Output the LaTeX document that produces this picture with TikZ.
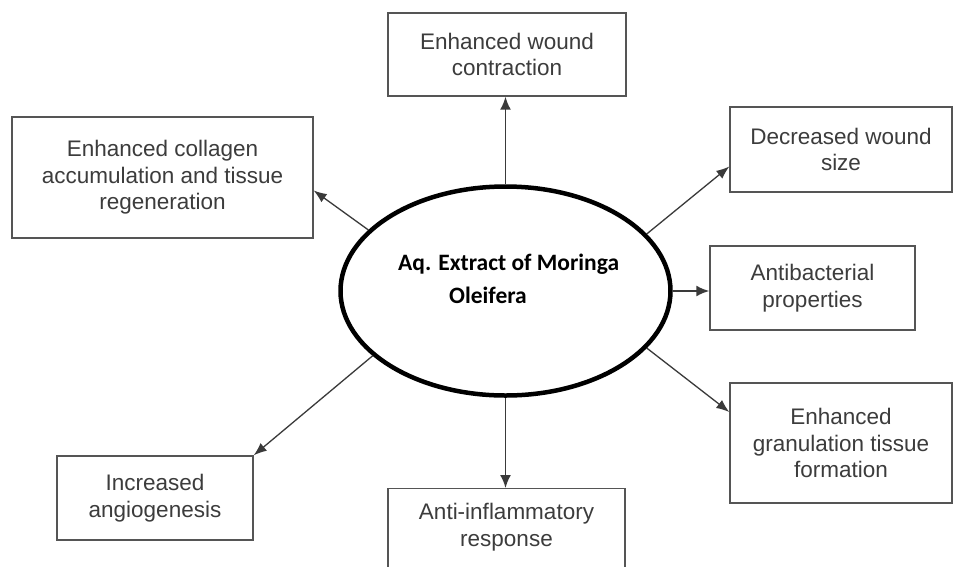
\documentclass[tikz,border=0pt]{standalone}
\usepackage{fontspec}
\usetikzlibrary{shapes.geometric,arrows.meta,calc}
\newfontfamily\boxfont{Liberation Sans}
\newfontfamily\titlefont{Carlito}
\definecolor{boxgray}{HTML}{555555}
\definecolor{txtgray}{HTML}{3C3C3C}
\definecolor{arrgray}{HTML}{3A3A3A}
\tikzset{
  fxbox/.style={draw=boxgray, line width=1.4pt, text=txtgray, align=center, inner sep=0pt,
    font={\boxfont\fontsize{22.5}{26.5}\selectfont}},
  fxtext/.style={text=txtgray, align=center, inner sep=0pt,
    font={\boxfont\fontsize{22.5}{26.5}\selectfont}},
  ttl/.style={font={\titlefont\bfseries\fontsize{23.5}{28}\selectfont}, inner sep=0pt, anchor=base west},
  conn/.style={draw=arrgray, line width=1.3pt, -{Latex[length=13pt,width=10pt]}},
  connv/.style={draw=arrgray, line width=1.9pt, -{Latex[length=13pt,width=11pt]}}
}
\begin{document}
\begin{tikzpicture}[x=1pt,y=-1pt]
\clip (0,0) rectangle (956,566);
\fill[white] (0,0) rectangle (956,566);
\node[draw=black, line width=4.5pt, ellipse, minimum width=330, minimum height=209, inner sep=0pt] (ell) at (505.5,291) {};
\node[ttl] (t1) at (398,270) {Aq. Extract of Moringa};
\node[ttl] (t2) at (449,303) {Oleifera};
\node[fxbox, minimum width=238, minimum height=83] (wc) at (507,54.5) {Enhanced wound\\contraction};
\node[fxbox, minimum width=301, minimum height=121] (tl) at (162.5,177.5) {Enhanced collagen\\accumulation and tissue\\regeneration};
\node[fxbox, minimum width=222, minimum height=85] (dr) at (841,149.5) {Decreased wound\\size};
\node[fxbox, minimum width=205, minimum height=84] (ab) at (812.5,288) {Antibacterial\\properties};
\node[fxbox, minimum width=222, minimum height=120] (gr) at (841,443) {Enhanced\\granulation tissue\\formation};
\node[fxbox, minimum width=196, minimum height=84] (ang) at (155,498) {Increased\\angiogenesis};
\node[draw=boxgray, line width=1.4pt, minimum width=237, minimum height=140, anchor=north, inner sep=0pt] (antibox) at (506.5,488) {};
\node[fxtext] (anti) at (506.5,527) {Anti-inflammatory\\response};
\draw[connv] (ell.north) -- (ell.north |- wc.south);
\draw[connv] (ell.south) -- (ell.south |- antibox.north);
\draw[connv] (ell.east) -- (ell.east -| ab.west);
\draw[conn] (ell.156) -- ($(tl.east)+(0,13)$);
\draw[conn] (ell.22.5) -- ($(dr.west)+(0,17)$);
\draw[conn] (ell.-22.6) -- ($(gr.west)+(0,-31)$);
\draw[conn] (ell.206) -- (ang.north east);
\end{tikzpicture}
\end{document}
